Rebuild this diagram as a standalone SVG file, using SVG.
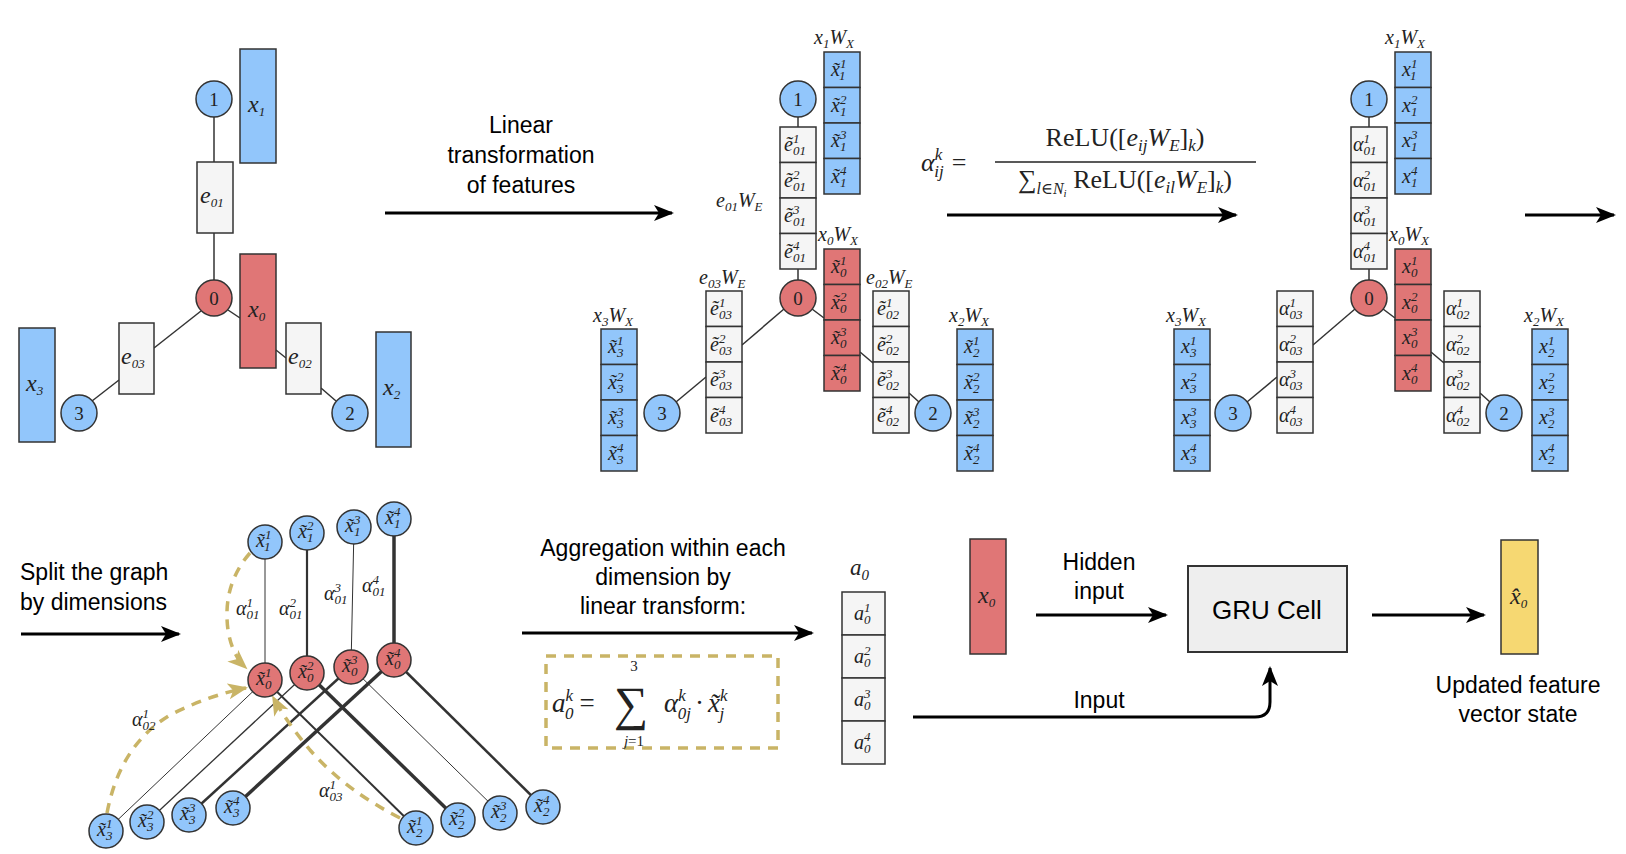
<svg xmlns="http://www.w3.org/2000/svg" width="1626" height="854" viewBox="0 0 1626 854">
<style>
.m{font-family:"Liberation Serif","DejaVu Serif",serif;font-style:italic;font-size:20px;fill:#222}
.s{font-size:13px}
.r{font-style:normal}
.t{font-family:"Liberation Sans",Arial,sans-serif;font-size:23px;fill:#000;text-anchor:middle}
.b{fill:#92c6fb;stroke:#333;stroke-width:1.5}
.rd{fill:#e07676;stroke:#333;stroke-width:1.5}
.g{fill:#f5f5f5;stroke:#333;stroke-width:1.5}
.ln{stroke:#333;stroke-width:1.5;fill:none}
.ar{stroke:#000;stroke-width:3;fill:none;marker-end:url(#ah)}
.gd{stroke:#c9b466;stroke-width:3.5;fill:none;stroke-dasharray:10 8;marker-end:url(#gh)}
.n{font-family:"Liberation Serif",serif;font-size:19px;fill:#222;text-anchor:middle}
.big{font-size:24px}
</style>
<defs>
<marker id="ah" markerUnits="userSpaceOnUse" markerWidth="22" markerHeight="18" refX="18" refY="8" orient="auto"><path d="M0,0 L20,8 L0,16 L5,8 z" fill="#000"/></marker>
<marker id="gh" markerUnits="userSpaceOnUse" markerWidth="22" markerHeight="18" refX="18" refY="8" orient="auto"><path d="M0,0 L20,8 L0,16 L5,8 z" fill="#c9b466"/></marker>
</defs>
<rect width="1626" height="854" fill="#fff"/>

<g id="connectors">
<line class="ln" x1="214" y1="117" x2="214" y2="162"/>
<line class="ln" x1="214" y1="233" x2="214" y2="280"/>
<line class="ln" x1="201" y1="311" x2="154" y2="348"/>
<line class="ln" x1="119" y1="380" x2="92" y2="401"/>
<line class="ln" x1="228" y1="310" x2="240" y2="318"/>
<line class="ln" x1="276" y1="350" x2="286" y2="358"/>
<line class="ln" x1="321" y1="388" x2="336" y2="401"/>
<g id="mid-edges">
<line class="ln" x1="798" y1="117" x2="798" y2="127"/>
<line class="ln" x1="798" y1="269" x2="798" y2="280"/>
<line class="ln" x1="784" y1="309" x2="742" y2="345"/>
<line class="ln" x1="706" y1="377" x2="676" y2="402"/>
<line class="ln" x1="812" y1="309" x2="824" y2="318"/>
<line class="ln" x1="860" y1="352" x2="873" y2="363"/>
<line class="ln" x1="909" y1="393" x2="919" y2="402"/>
</g>
<use href="#mid-edges" transform="translate(571,0)"/>
<line class="ar" x1="385" y1="213" x2="672" y2="213"/>
<line class="ar" x1="947" y1="215" x2="1236" y2="215"/>
<line class="ar" x1="1525" y1="215" x2="1614" y2="215"/>
<line class="ar" x1="21" y1="634" x2="179" y2="634"/>
<line class="ar" x1="522" y1="633" x2="812" y2="633"/>
<line class="ar" x1="1036" y1="615" x2="1166" y2="615"/>
<line class="ar" x1="1372" y1="615" x2="1484" y2="615"/>
<path class="ar" d="M913,717 L1255,717 Q1270,717 1270,702 L1270,668"/>
<line class="ln" x1="265" y1="542" x2="265" y2="680" style="stroke-width:1"/>
<line class="ln" x1="307" y1="533" x2="307" y2="673" style="stroke-width:2.2"/>
<line class="ln" x1="354" y1="527" x2="351" y2="667" style="stroke-width:1"/>
<line class="ln" x1="394" y1="519" x2="394" y2="660" style="stroke-width:3.5"/>
<line class="ln" x1="106" y1="831" x2="265" y2="680" style="stroke-width:1"/>
<line class="ln" x1="147" y1="822" x2="307" y2="673" style="stroke-width:1.3"/>
<line class="ln" x1="189" y1="815" x2="351" y2="667" style="stroke-width:2.5"/>
<line class="ln" x1="233" y1="808" x2="394" y2="660" style="stroke-width:3.5"/>
<line class="ln" x1="265" y1="680" x2="416" y2="828" style="stroke-width:2"/>
<line class="ln" x1="307" y1="673" x2="458" y2="820" style="stroke-width:3.5"/>
<line class="ln" x1="351" y1="667" x2="500" y2="813" style="stroke-width:1"/>
<line class="ln" x1="394" y1="660" x2="543" y2="807" style="stroke-width:2.5"/>
<path class="gd" d="M250,553 Q222,585 228,630 Q232,655 246,668"/>
<path class="gd" d="M107,813 Q120,745 170,715 Q210,695 246,688"/>
<path class="gd" d="M400,818 Q345,790 310,750 Q285,720 273,697"/>
</g>

<g id="L-x1"><rect class="b" x="240" y="49" width="36" height="114"/><text class="m big" x="248" y="112">x<tspan class="s" dy="4">1</tspan></text></g>
<g id="L-e01"><rect class="g" x="197" y="162" width="36" height="71"/><text class="m big" x="200" y="203">e<tspan class="s" dy="4">01</tspan></text></g>
<g id="L-x0"><rect class="rd" x="240" y="254" width="36" height="114"/><text class="m big" x="248" y="317">x<tspan class="s" dy="4">0</tspan></text></g>
<g id="L-e03"><rect class="g" x="119" y="323" width="35" height="71"/><text class="m big" x="121" y="364">e<tspan class="s" dy="4">03</tspan></text></g>
<g id="L-e02"><rect class="g" x="286" y="323" width="35" height="71"/><text class="m big" x="288" y="364">e<tspan class="s" dy="4">02</tspan></text></g>
<g id="L-x3"><rect class="b" x="19" y="328" width="36" height="114"/><text class="m big" x="26" y="391">x<tspan class="s" dy="4">3</tspan></text></g>
<g id="L-x2"><rect class="b" x="376" y="332" width="35" height="115"/><text class="m big" x="383" y="395">x<tspan class="s" dy="4">2</tspan></text></g>
<g id="L-n1"><circle class="b" cx="214" cy="99" r="18"/><text class="n" x="214" y="106">1</text></g>
<g id="L-n0"><circle class="rd" cx="214" cy="298" r="18"/><text class="n" x="214" y="305">0</text></g>
<g id="L-n3"><circle class="b" cx="79" cy="413" r="18"/><text class="n" x="79" y="420">3</text></g>
<g id="L-n2"><circle class="b" cx="350" cy="413" r="18"/><text class="n" x="350" y="420">2</text></g>

<text class="t" x="521" y="133">Linear</text>
<text class="t" x="521" y="163">transformation</text>
<text class="t" x="521" y="193">of features</text>

<g id="M-n1"><circle class="b" cx="798" cy="99" r="18"/><text class="n" x="798" y="106">1</text></g>
<g id="M-n0"><circle class="rd" cx="798" cy="298" r="18"/><text class="n" x="798" y="305">0</text></g>
<g id="M-n3"><circle class="b" cx="662" cy="413" r="18"/><text class="n" x="662" y="420">3</text></g>
<g id="M-n2"><circle class="b" cx="933" cy="413" r="18"/><text class="n" x="933" y="420">2</text></g>
<g id="M-x1">
<rect class="b" x="824" y="52" width="36" height="35.5"/><rect class="b" x="824" y="87.5" width="36" height="35.5"/><rect class="b" x="824" y="123" width="36" height="35.5"/><rect class="b" x="824" y="158.5" width="36" height="35.5"/>
<text class="m" x="831" y="76">x̃<tspan class="s" dy="-8">1</tspan><tspan class="s" dx="-6.5" dy="12">1</tspan></text>
<text class="m" x="831" y="111.5">x̃<tspan class="s" dy="-8">2</tspan><tspan class="s" dx="-6.5" dy="12">1</tspan></text>
<text class="m" x="831" y="147">x̃<tspan class="s" dy="-8">3</tspan><tspan class="s" dx="-6.5" dy="12">1</tspan></text>
<text class="m" x="831" y="182.5">x̃<tspan class="s" dy="-8">4</tspan><tspan class="s" dx="-6.5" dy="12">1</tspan></text>
</g>
<g id="M-e01">
<rect class="g" x="780" y="127" width="36" height="35.5"/><rect class="g" x="780" y="162.5" width="36" height="35.5"/><rect class="g" x="780" y="198" width="36" height="35.5"/><rect class="g" x="780" y="233.5" width="36" height="35.5"/>
<text class="m" x="784" y="151">ẽ<tspan class="s" dy="-8">1</tspan><tspan class="s" dx="-6.5" dy="12">01</tspan></text>
<text class="m" x="784" y="186.5">ẽ<tspan class="s" dy="-8">2</tspan><tspan class="s" dx="-6.5" dy="12">01</tspan></text>
<text class="m" x="784" y="222">ẽ<tspan class="s" dy="-8">3</tspan><tspan class="s" dx="-6.5" dy="12">01</tspan></text>
<text class="m" x="784" y="257.5">ẽ<tspan class="s" dy="-8">4</tspan><tspan class="s" dx="-6.5" dy="12">01</tspan></text>
</g>
<g id="M-x0">
<rect class="rd" x="824" y="249" width="36" height="35.5"/><rect class="rd" x="824" y="284.5" width="36" height="35.5"/><rect class="rd" x="824" y="320" width="36" height="35.5"/><rect class="rd" x="824" y="355.5" width="36" height="35.5"/>
<text class="m" x="831" y="273">x̃<tspan class="s" dy="-8">1</tspan><tspan class="s" dx="-6.5" dy="12">0</tspan></text>
<text class="m" x="831" y="308.5">x̃<tspan class="s" dy="-8">2</tspan><tspan class="s" dx="-6.5" dy="12">0</tspan></text>
<text class="m" x="831" y="344">x̃<tspan class="s" dy="-8">3</tspan><tspan class="s" dx="-6.5" dy="12">0</tspan></text>
<text class="m" x="831" y="379.5">x̃<tspan class="s" dy="-8">4</tspan><tspan class="s" dx="-6.5" dy="12">0</tspan></text>
</g>
<g id="M-e03">
<rect class="g" x="706" y="291" width="36" height="35.5"/><rect class="g" x="706" y="326.5" width="36" height="35.5"/><rect class="g" x="706" y="362" width="36" height="35.5"/><rect class="g" x="706" y="397.5" width="36" height="35.5"/>
<text class="m" x="710" y="315">ẽ<tspan class="s" dy="-8">1</tspan><tspan class="s" dx="-6.5" dy="12">03</tspan></text>
<text class="m" x="710" y="350.5">ẽ<tspan class="s" dy="-8">2</tspan><tspan class="s" dx="-6.5" dy="12">03</tspan></text>
<text class="m" x="710" y="386">ẽ<tspan class="s" dy="-8">3</tspan><tspan class="s" dx="-6.5" dy="12">03</tspan></text>
<text class="m" x="710" y="421.5">ẽ<tspan class="s" dy="-8">4</tspan><tspan class="s" dx="-6.5" dy="12">03</tspan></text>
</g>
<g id="M-e02">
<rect class="g" x="873" y="291" width="36" height="35.5"/><rect class="g" x="873" y="326.5" width="36" height="35.5"/><rect class="g" x="873" y="362" width="36" height="35.5"/><rect class="g" x="873" y="397.5" width="36" height="35.5"/>
<text class="m" x="877" y="315">ẽ<tspan class="s" dy="-8">1</tspan><tspan class="s" dx="-6.5" dy="12">02</tspan></text>
<text class="m" x="877" y="350.5">ẽ<tspan class="s" dy="-8">2</tspan><tspan class="s" dx="-6.5" dy="12">02</tspan></text>
<text class="m" x="877" y="386">ẽ<tspan class="s" dy="-8">3</tspan><tspan class="s" dx="-6.5" dy="12">02</tspan></text>
<text class="m" x="877" y="421.5">ẽ<tspan class="s" dy="-8">4</tspan><tspan class="s" dx="-6.5" dy="12">02</tspan></text>
</g>
<g id="M-x3">
<rect class="b" x="601" y="329" width="36" height="35.5"/><rect class="b" x="601" y="364.5" width="36" height="35.5"/><rect class="b" x="601" y="400" width="36" height="35.5"/><rect class="b" x="601" y="435.5" width="36" height="35.5"/>
<text class="m" x="608" y="353">x̃<tspan class="s" dy="-8">1</tspan><tspan class="s" dx="-6.5" dy="12">3</tspan></text>
<text class="m" x="608" y="388.5">x̃<tspan class="s" dy="-8">2</tspan><tspan class="s" dx="-6.5" dy="12">3</tspan></text>
<text class="m" x="608" y="424">x̃<tspan class="s" dy="-8">3</tspan><tspan class="s" dx="-6.5" dy="12">3</tspan></text>
<text class="m" x="608" y="459.5">x̃<tspan class="s" dy="-8">4</tspan><tspan class="s" dx="-6.5" dy="12">3</tspan></text>
</g>
<g id="M-x2">
<rect class="b" x="957" y="329" width="36" height="35.5"/><rect class="b" x="957" y="364.5" width="36" height="35.5"/><rect class="b" x="957" y="400" width="36" height="35.5"/><rect class="b" x="957" y="435.5" width="36" height="35.5"/>
<text class="m" x="964" y="353">x̃<tspan class="s" dy="-8">1</tspan><tspan class="s" dx="-6.5" dy="12">2</tspan></text>
<text class="m" x="964" y="388.5">x̃<tspan class="s" dy="-8">2</tspan><tspan class="s" dx="-6.5" dy="12">2</tspan></text>
<text class="m" x="964" y="424">x̃<tspan class="s" dy="-8">3</tspan><tspan class="s" dx="-6.5" dy="12">2</tspan></text>
<text class="m" x="964" y="459.5">x̃<tspan class="s" dy="-8">4</tspan><tspan class="s" dx="-6.5" dy="12">2</tspan></text>
</g>
<g id="M-labels">
<text class="m" x="814" y="44">x<tspan class="s" dy="4">1</tspan><tspan dy="-4">W</tspan><tspan class="s" dy="4">X</tspan></text>
<text class="m" x="818" y="241">x<tspan class="s" dy="4">0</tspan><tspan dy="-4">W</tspan><tspan class="s" dy="4">X</tspan></text>
<text class="m" x="593" y="322">x<tspan class="s" dy="4">3</tspan><tspan dy="-4">W</tspan><tspan class="s" dy="4">X</tspan></text>
<text class="m" x="949" y="322">x<tspan class="s" dy="4">2</tspan><tspan dy="-4">W</tspan><tspan class="s" dy="4">X</tspan></text>
</g>
<text class="m" x="716" y="207">e<tspan class="s" dy="4">01</tspan><tspan dy="-4">W</tspan><tspan class="s" dy="4">E</tspan></text>
<text class="m" x="699" y="284">e<tspan class="s" dy="4">03</tspan><tspan dy="-4">W</tspan><tspan class="s" dy="4">E</tspan></text>
<text class="m" x="866" y="284">e<tspan class="s" dy="4">02</tspan><tspan dy="-4">W</tspan><tspan class="s" dy="4">E</tspan></text>

<g id="formula-alpha">
<text class="m" x="921" y="171" style="font-size:26px">α<tspan class="s" style="font-size:17px" dy="-11">k</tspan><tspan class="s" style="font-size:17px" dx="-8" dy="17">ij</tspan><tspan class="r" dy="-6" dx="8">=</tspan></text>
<text class="m" x="1125" y="146" style="font-size:26px;text-anchor:middle"><tspan class="r">ReLU([</tspan>e<tspan class="s" style="font-size:17px" dy="5">ij</tspan><tspan dy="-5">W</tspan><tspan class="s" style="font-size:17px" dy="5">E</tspan><tspan class="r" dy="-5">]</tspan><tspan class="s" style="font-size:17px" dy="5">k</tspan><tspan class="r" dy="-5">)</tspan></text>
<line x1="995" y1="162" x2="1256" y2="162" stroke="#222" stroke-width="1.5"/>
<text class="m" x="1125" y="188" style="font-size:26px;text-anchor:middle"><tspan class="r">∑</tspan><tspan class="s" style="font-size:16px" dy="6">l∈N</tspan><tspan class="s" style="font-size:11px" dy="3">i</tspan><tspan class="r" dy="-9"> ReLU([</tspan>e<tspan class="s" style="font-size:17px" dy="5">il</tspan><tspan dy="-5">W</tspan><tspan class="s" style="font-size:17px" dy="5">E</tspan><tspan class="r" dy="-5">]</tspan><tspan class="s" style="font-size:17px" dy="5">k</tspan><tspan class="r" dy="-5">)</tspan></text>
</g>

<g transform="translate(571,0)">
<g id="R-n1"><circle class="b" cx="798" cy="99" r="18"/><text class="n" x="798" y="106">1</text></g>
<g id="R-n0"><circle class="rd" cx="798" cy="298" r="18"/><text class="n" x="798" y="305">0</text></g>
<g id="R-n3"><circle class="b" cx="662" cy="413" r="18"/><text class="n" x="662" y="420">3</text></g>
<g id="R-n2"><circle class="b" cx="933" cy="413" r="18"/><text class="n" x="933" y="420">2</text></g>
<g id="R-x1">
<rect class="b" x="824" y="52" width="36" height="35.5"/><rect class="b" x="824" y="87.5" width="36" height="35.5"/><rect class="b" x="824" y="123" width="36" height="35.5"/><rect class="b" x="824" y="158.5" width="36" height="35.5"/>
<text class="m" x="831" y="76">x<tspan class="s" dy="-8">1</tspan><tspan class="s" dx="-6.5" dy="12">1</tspan></text>
<text class="m" x="831" y="111.5">x<tspan class="s" dy="-8">2</tspan><tspan class="s" dx="-6.5" dy="12">1</tspan></text>
<text class="m" x="831" y="147">x<tspan class="s" dy="-8">3</tspan><tspan class="s" dx="-6.5" dy="12">1</tspan></text>
<text class="m" x="831" y="182.5">x<tspan class="s" dy="-8">4</tspan><tspan class="s" dx="-6.5" dy="12">1</tspan></text>
</g>
<g id="R-a01">
<rect class="g" x="780" y="127" width="36" height="35.5"/><rect class="g" x="780" y="162.5" width="36" height="35.5"/><rect class="g" x="780" y="198" width="36" height="35.5"/><rect class="g" x="780" y="233.5" width="36" height="35.5"/>
<text class="m" x="782" y="151">α<tspan class="s" dy="-8">1</tspan><tspan class="s" dx="-6.5" dy="12">01</tspan></text>
<text class="m" x="782" y="186.5">α<tspan class="s" dy="-8">2</tspan><tspan class="s" dx="-6.5" dy="12">01</tspan></text>
<text class="m" x="782" y="222">α<tspan class="s" dy="-8">3</tspan><tspan class="s" dx="-6.5" dy="12">01</tspan></text>
<text class="m" x="782" y="257.5">α<tspan class="s" dy="-8">4</tspan><tspan class="s" dx="-6.5" dy="12">01</tspan></text>
</g>
<g id="R-x0">
<rect class="rd" x="824" y="249" width="36" height="35.5"/><rect class="rd" x="824" y="284.5" width="36" height="35.5"/><rect class="rd" x="824" y="320" width="36" height="35.5"/><rect class="rd" x="824" y="355.5" width="36" height="35.5"/>
<text class="m" x="831" y="273">x<tspan class="s" dy="-8">1</tspan><tspan class="s" dx="-6.5" dy="12">0</tspan></text>
<text class="m" x="831" y="308.5">x<tspan class="s" dy="-8">2</tspan><tspan class="s" dx="-6.5" dy="12">0</tspan></text>
<text class="m" x="831" y="344">x<tspan class="s" dy="-8">3</tspan><tspan class="s" dx="-6.5" dy="12">0</tspan></text>
<text class="m" x="831" y="379.5">x<tspan class="s" dy="-8">4</tspan><tspan class="s" dx="-6.5" dy="12">0</tspan></text>
</g>
<g id="R-a03">
<rect class="g" x="706" y="291" width="36" height="35.5"/><rect class="g" x="706" y="326.5" width="36" height="35.5"/><rect class="g" x="706" y="362" width="36" height="35.5"/><rect class="g" x="706" y="397.5" width="36" height="35.5"/>
<text class="m" x="708" y="315">α<tspan class="s" dy="-8">1</tspan><tspan class="s" dx="-6.5" dy="12">03</tspan></text>
<text class="m" x="708" y="350.5">α<tspan class="s" dy="-8">2</tspan><tspan class="s" dx="-6.5" dy="12">03</tspan></text>
<text class="m" x="708" y="386">α<tspan class="s" dy="-8">3</tspan><tspan class="s" dx="-6.5" dy="12">03</tspan></text>
<text class="m" x="708" y="421.5">α<tspan class="s" dy="-8">4</tspan><tspan class="s" dx="-6.5" dy="12">03</tspan></text>
</g>
<g id="R-a02">
<rect class="g" x="873" y="291" width="36" height="35.5"/><rect class="g" x="873" y="326.5" width="36" height="35.5"/><rect class="g" x="873" y="362" width="36" height="35.5"/><rect class="g" x="873" y="397.5" width="36" height="35.5"/>
<text class="m" x="875" y="315">α<tspan class="s" dy="-8">1</tspan><tspan class="s" dx="-6.5" dy="12">02</tspan></text>
<text class="m" x="875" y="350.5">α<tspan class="s" dy="-8">2</tspan><tspan class="s" dx="-6.5" dy="12">02</tspan></text>
<text class="m" x="875" y="386">α<tspan class="s" dy="-8">3</tspan><tspan class="s" dx="-6.5" dy="12">02</tspan></text>
<text class="m" x="875" y="421.5">α<tspan class="s" dy="-8">4</tspan><tspan class="s" dx="-6.5" dy="12">02</tspan></text>
</g>
<g id="R-x3">
<rect class="b" x="603" y="329" width="36" height="35.5"/><rect class="b" x="603" y="364.5" width="36" height="35.5"/><rect class="b" x="603" y="400" width="36" height="35.5"/><rect class="b" x="603" y="435.5" width="36" height="35.5"/>
<text class="m" x="610" y="353">x<tspan class="s" dy="-8">1</tspan><tspan class="s" dx="-6.5" dy="12">3</tspan></text>
<text class="m" x="610" y="388.5">x<tspan class="s" dy="-8">2</tspan><tspan class="s" dx="-6.5" dy="12">3</tspan></text>
<text class="m" x="610" y="424">x<tspan class="s" dy="-8">3</tspan><tspan class="s" dx="-6.5" dy="12">3</tspan></text>
<text class="m" x="610" y="459.5">x<tspan class="s" dy="-8">4</tspan><tspan class="s" dx="-6.5" dy="12">3</tspan></text>
</g>
<g id="R-x2">
<rect class="b" x="961" y="329" width="36" height="35.5"/><rect class="b" x="961" y="364.5" width="36" height="35.5"/><rect class="b" x="961" y="400" width="36" height="35.5"/><rect class="b" x="961" y="435.5" width="36" height="35.5"/>
<text class="m" x="968" y="353">x<tspan class="s" dy="-8">1</tspan><tspan class="s" dx="-6.5" dy="12">2</tspan></text>
<text class="m" x="968" y="388.5">x<tspan class="s" dy="-8">2</tspan><tspan class="s" dx="-6.5" dy="12">2</tspan></text>
<text class="m" x="968" y="424">x<tspan class="s" dy="-8">3</tspan><tspan class="s" dx="-6.5" dy="12">2</tspan></text>
<text class="m" x="968" y="459.5">x<tspan class="s" dy="-8">4</tspan><tspan class="s" dx="-6.5" dy="12">2</tspan></text>
</g>
<text class="m" x="814" y="44">x<tspan class="s" dy="4">1</tspan><tspan dy="-4">W</tspan><tspan class="s" dy="4">X</tspan></text>
<text class="m" x="818" y="241">x<tspan class="s" dy="4">0</tspan><tspan dy="-4">W</tspan><tspan class="s" dy="4">X</tspan></text>
<text class="m" x="595" y="322">x<tspan class="s" dy="4">3</tspan><tspan dy="-4">W</tspan><tspan class="s" dy="4">X</tspan></text>
<text class="m" x="953" y="322">x<tspan class="s" dy="4">2</tspan><tspan dy="-4">W</tspan><tspan class="s" dy="4">X</tspan></text>
</g>

<text class="t" x="20" y="580" style="text-anchor:start">Split the graph</text>
<text class="t" x="20" y="610" style="text-anchor:start">by dimensions</text>
<g id="S-x1-1"><circle class="b" cx="265" cy="542" r="17"/><text class="m" x="256" y="547">x̃<tspan class="s" dy="-8">1</tspan><tspan class="s" dx="-6.5" dy="12">1</tspan></text></g>
<g id="S-x1-2"><circle class="b" cx="307" cy="533" r="17"/><text class="m" x="298" y="538">x̃<tspan class="s" dy="-8">2</tspan><tspan class="s" dx="-6.5" dy="12">1</tspan></text></g>
<g id="S-x1-3"><circle class="b" cx="354" cy="527" r="17"/><text class="m" x="345" y="532">x̃<tspan class="s" dy="-8">3</tspan><tspan class="s" dx="-6.5" dy="12">1</tspan></text></g>
<g id="S-x1-4"><circle class="b" cx="394" cy="519" r="17"/><text class="m" x="385" y="524">x̃<tspan class="s" dy="-8">4</tspan><tspan class="s" dx="-6.5" dy="12">1</tspan></text></g>
<g id="S-x0-1"><circle class="rd" cx="265" cy="680" r="17"/><text class="m" x="256" y="685">x̃<tspan class="s" dy="-8">1</tspan><tspan class="s" dx="-6.5" dy="12">0</tspan></text></g>
<g id="S-x0-2"><circle class="rd" cx="307" cy="673" r="17"/><text class="m" x="298" y="678">x̃<tspan class="s" dy="-8">2</tspan><tspan class="s" dx="-6.5" dy="12">0</tspan></text></g>
<g id="S-x0-3"><circle class="rd" cx="351" cy="667" r="17"/><text class="m" x="342" y="672">x̃<tspan class="s" dy="-8">3</tspan><tspan class="s" dx="-6.5" dy="12">0</tspan></text></g>
<g id="S-x0-4"><circle class="rd" cx="394" cy="660" r="17"/><text class="m" x="385" y="665">x̃<tspan class="s" dy="-8">4</tspan><tspan class="s" dx="-6.5" dy="12">0</tspan></text></g>
<g id="S-x3-1"><circle class="b" cx="106" cy="831" r="17"/><text class="m" x="97" y="836">x̃<tspan class="s" dy="-8">1</tspan><tspan class="s" dx="-6.5" dy="12">3</tspan></text></g>
<g id="S-x3-2"><circle class="b" cx="147" cy="822" r="17"/><text class="m" x="138" y="827">x̃<tspan class="s" dy="-8">2</tspan><tspan class="s" dx="-6.5" dy="12">3</tspan></text></g>
<g id="S-x3-3"><circle class="b" cx="189" cy="815" r="17"/><text class="m" x="180" y="820">x̃<tspan class="s" dy="-8">3</tspan><tspan class="s" dx="-6.5" dy="12">3</tspan></text></g>
<g id="S-x3-4"><circle class="b" cx="233" cy="808" r="17"/><text class="m" x="224" y="813">x̃<tspan class="s" dy="-8">4</tspan><tspan class="s" dx="-6.5" dy="12">3</tspan></text></g>
<g id="S-x2-1"><circle class="b" cx="416" cy="828" r="17"/><text class="m" x="407" y="833">x̃<tspan class="s" dy="-8">1</tspan><tspan class="s" dx="-6.5" dy="12">2</tspan></text></g>
<g id="S-x2-2"><circle class="b" cx="458" cy="820" r="17"/><text class="m" x="449" y="825">x̃<tspan class="s" dy="-8">2</tspan><tspan class="s" dx="-6.5" dy="12">2</tspan></text></g>
<g id="S-x2-3"><circle class="b" cx="500" cy="813" r="17"/><text class="m" x="491" y="818">x̃<tspan class="s" dy="-8">3</tspan><tspan class="s" dx="-6.5" dy="12">2</tspan></text></g>
<g id="S-x2-4"><circle class="b" cx="543" cy="807" r="17"/><text class="m" x="534" y="812">x̃<tspan class="s" dy="-8">4</tspan><tspan class="s" dx="-6.5" dy="12">2</tspan></text></g>
<text class="m" x="236" y="615">α<tspan class="s" dy="-8">1</tspan><tspan class="s" dx="-6.5" dy="12">01</tspan></text>
<text class="m" x="279" y="615">α<tspan class="s" dy="-8">2</tspan><tspan class="s" dx="-6.5" dy="12">01</tspan></text>
<text class="m" x="324" y="600">α<tspan class="s" dy="-8">3</tspan><tspan class="s" dx="-6.5" dy="12">01</tspan></text>
<text class="m" x="362" y="592">α<tspan class="s" dy="-8">4</tspan><tspan class="s" dx="-6.5" dy="12">01</tspan></text>
<text class="m" x="132" y="726">α<tspan class="s" dy="-8">1</tspan><tspan class="s" dx="-6.5" dy="12">02</tspan></text>
<text class="m" x="319" y="797">α<tspan class="s" dy="-8">1</tspan><tspan class="s" dx="-6.5" dy="12">03</tspan></text>

<text class="t" x="663" y="556">Aggregation within each</text>
<text class="t" x="663" y="585">dimension by</text>
<text class="t" x="663" y="614">linear transform:</text>
<g id="agg-formula">
<rect x="546" y="656" width="232" height="92" fill="none" stroke="#c9b466" stroke-width="3.5" stroke-dasharray="10 8"/>
<text class="m" x="552" y="712" style="font-size:27px">a<tspan class="s" style="font-size:17px" dy="-11">k</tspan><tspan class="s" style="font-size:17px" dx="-8" dy="18">0</tspan><tspan class="r" dy="-7" dx="6">=</tspan></text>
<text x="614" y="720" style="font-family:'Liberation Serif',serif;font-size:48px;fill:#222">∑</text>
<text class="n" x="634" y="671" style="font-size:15px">3</text>
<text class="m" x="634" y="746" style="font-size:15px;text-anchor:middle">j<tspan class="r">=1</tspan></text>
<text class="m" x="664" y="712" style="font-size:27px">α<tspan class="s" style="font-size:17px" dy="-11">k</tspan><tspan class="s" style="font-size:17px" dx="-8" dy="18">0j</tspan><tspan class="r" dy="-7" dx="4">·</tspan><tspan dx="4">x̃</tspan><tspan class="s" style="font-size:17px" dy="-11">k</tspan><tspan class="s" style="font-size:17px" dx="-8" dy="18">j</tspan></text>
</g>
<text class="m" x="850" y="575" style="font-size:23px">a<tspan class="s" style="font-size:15px" dy="5">0</tspan></text>
<g id="a0">
<rect class="g" x="842" y="592" width="43" height="43"/><rect class="g" x="842" y="635" width="43" height="43"/><rect class="g" x="842" y="678" width="43" height="43"/><rect class="g" x="842" y="721" width="43" height="43"/>
<text class="m" x="854" y="620">a<tspan class="s" dy="-8">1</tspan><tspan class="s" dx="-6.5" dy="12">0</tspan></text>
<text class="m" x="854" y="663">a<tspan class="s" dy="-8">2</tspan><tspan class="s" dx="-6.5" dy="12">0</tspan></text>
<text class="m" x="854" y="706">a<tspan class="s" dy="-8">3</tspan><tspan class="s" dx="-6.5" dy="12">0</tspan></text>
<text class="m" x="854" y="749">a<tspan class="s" dy="-8">4</tspan><tspan class="s" dx="-6.5" dy="12">0</tspan></text>
</g>
<g id="B-x0"><rect class="rd" x="970" y="539" width="36" height="115"/><text class="m big" x="978" y="603">x<tspan class="s" dy="4">0</tspan></text></g>
<text class="t" x="1099" y="570">Hidden</text>
<text class="t" x="1099" y="599">input</text>
<g id="gru"><rect x="1188" y="566" width="159" height="86" fill="#eeeeee" stroke="#333" stroke-width="2"/><text class="t" x="1267" y="619" style="font-size:26px">GRU Cell</text></g>
<text class="t" x="1099" y="708">Input</text>
<g id="B-xhat"><rect x="1501" y="540" width="37" height="114" fill="#f6d872" stroke="#333" stroke-width="1.5"/><text class="m big" x="1510" y="604">x̂<tspan class="s" dy="4">0</tspan></text></g>
<text class="t" x="1518" y="693">Updated feature</text>
<text class="t" x="1518" y="722">vector state</text>
</svg>
